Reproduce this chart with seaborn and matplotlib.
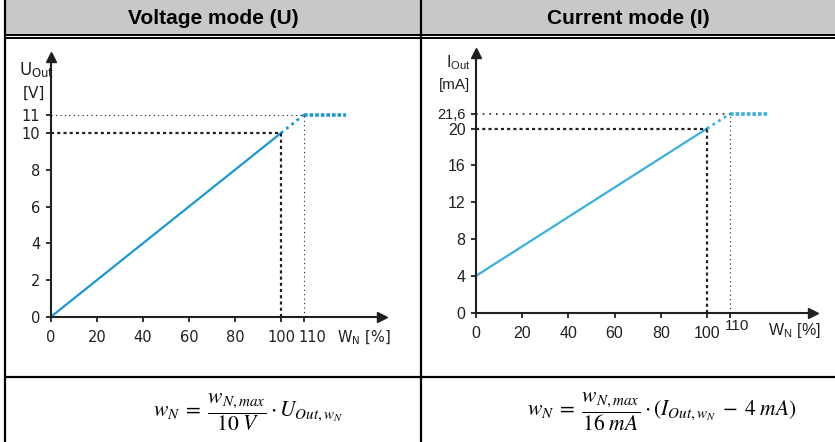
import matplotlib.pyplot as plt
import pandas as pd
import seaborn as sns

sns.set_theme(style="white")
plt.rcParams["font.family"] = ["DejaVu Sans"]
plt.rcParams["mathtext.fontset"] = "stix"

W, H = 835, 442

# voltage mode (U)
wn_u = [0, 100, 110, 128]
u_out = [0, 10, 11, 11]
u_ticks = [0, 2, 4, 6, 8, 10, 11]
u_ticklabels = ["0", "2", "4", "6", "8", "10", "11"]

# current mode (I)
wn_i = [0, 100, 110, 127]
i_out = [4, 20, 21.6, 21.6]
i_ticks = [0, 4, 8, 12, 16, 20, 21.6]
i_ticklabels = ["0", "4", "8", "12", "16", "20", "21,6"]

wn_ticks = [0, 20, 40, 60, 80, 100, 110]
wn_ticklabels = ["0", "20", "40", "60", "80", "100", "110"]

headers = ["Voltage mode (U)", "Current mode (I)"]
formulas = [
    r"$w_N\;=\;\dfrac{w_{N,max}}{10\;V}\cdot U_{Out,w_N}$",
    r"$w_N\;=\;\dfrac{w_{N,max}}{16\;mA}\cdot (I_{Out,w_N}\;-\;4\;mA)$",
]

INK = "#231f20"


def px_rect(left, right, top, bottom):
    return [left / W, 1 - bottom / H, (right - left) / W, (bottom - top) / H]


def draw_panel(ax, x, y, color, xmax, ymax, thin_h, family, fsize):
    ax.set_facecolor("none")
    df = pd.DataFrame({"wn": x, "out": y})
    sns.lineplot(data=df.iloc[0:2], x="wn", y="out", color=color, lw=1.6, ax=ax)
    sns.lineplot(data=df.iloc[1:3], x="wn", y="out", color=color, lw=2.0,
                 linestyle=(0, (1, 1.4)), ax=ax)
    sns.lineplot(data=df.iloc[2:4], x="wn", y="out", color=color, lw=2.6,
                 linestyle=(0, (1, 0.55)), solid_capstyle="butt",
                 dash_capstyle="butt", ax=ax)
    # guide lines to nominal and saturation points
    ax.hlines(y[1], 0, x[1], color=INK, lw=1.6, linestyles=[(0, (1.4, 1.4))])
    ax.vlines(x[1], 0, y[1], color=INK, lw=1.6, linestyles=[(0, (1.4, 1.4))])
    ax.hlines(y[2], 0, x[2], color=INK, lw=thin_h, linestyles=[(0, (1, 3))])
    ax.vlines(x[2], 0, y[2], color=INK, lw=0.8, linestyles=[(0, (1, 3))])

    ax.set_xlim(0, xmax)
    ax.set_ylim(0, ymax)
    for s in ["top", "right"]:
        ax.spines[s].set_visible(False)
    for s in ["left", "bottom"]:
        ax.spines[s].set_color(INK)
        ax.spines[s].set_linewidth(1.5)
    ax.plot(1, 0, ">", color=INK, ms=7, transform=ax.get_yaxis_transform(), clip_on=False)
    ax.plot(0, 1, "^", color=INK, ms=7, transform=ax.get_xaxis_transform(), clip_on=False)
    ax.tick_params(direction="out", length=3.5, width=1.3, color=INK,
                   labelcolor=INK, labelsize=fsize, left=True, bottom=True)
    ax.tick_params(axis="x", pad=6)
    ax.tick_params(axis="y", pad=4)
    for lab in ax.get_xticklabels() + ax.get_yticklabels():
        lab.set_family(family)
    ax.set_xlabel("")
    ax.set_ylabel("")


fig = plt.figure(figsize=(W / 100, H / 100), dpi=100)

# table frame
ov = fig.add_axes([0, 0, 1, 1])
ov.set_xlim(0, W)
ov.set_ylim(H, 0)
ov.axis("off")
ov.fill_between([5, W], 0, 34, color="#c8c8c8", lw=0)
ov.plot([5, W], [34.5, 34.5], color="black", lw=1.4)
ov.plot([5, W], [37.8, 37.8], color="black", lw=1.4)
ov.plot([5, W], [377, 377], color="black", lw=1.6)
ov.plot([5, 5], [0, H], color="black", lw=1.6)
ov.plot([420.5, 420.5], [0, H], color="black", lw=1.6)
for xc, txt in zip([213, 628], headers):
    ov.text(xc, 18, txt, ha="center", va="center", fontsize=15,
            fontweight="bold", family="Liberation Sans", color="black")
for xc, txt in zip([248, 662], formulas):
    ov.text(xc, 412, txt, ha="center", va="center", fontsize=15.5, color="black")

# voltage panel
ax1 = fig.add_axes(px_rect(50.7, 381.7, 57, 317))
ax1.set_xticks(wn_ticks, wn_ticklabels[:-1] + [""])
ax1.set_yticks(u_ticks, u_ticklabels)
draw_panel(ax1, wn_u, u_out, "#1b97d3", 143.7, 14.13, 0.8, "DejaVu Sans", 10.5)
ax1.get_xticklabels()[-2].set_x(98.5)
ov.text(312, 337, wn_ticklabels[-1], ha="center", va="center", fontsize=10.5,
        color=INK)
ov.text(19, 70, r"U$_{\mathregular{Out}}$", ha="left", va="center",
        fontsize=12, color=INK)
ov.text(34, 93, "[V]", ha="center", va="center", fontsize=11, color=INK)
ov.text(337, 337, r"W$_{\mathregular{N}}$ [%]", ha="left", va="center",
        fontsize=10.5, color=INK)

# current panel
ax2 = fig.add_axes(px_rect(476, 813, 53, 312.7))
ax2.set_xticks(wn_ticks, wn_ticklabels[:-1] + [""])
ax2.set_yticks(i_ticks, i_ticklabels)
draw_panel(ax2, wn_i, i_out, "#3aafe0", 145.9, 28.2, 1.2, "Liberation Sans", 11.5)
ax2.get_yticklabels()[-1].set_fontsize(10.5)
ov.text(737, 326, wn_ticklabels[-1], ha="center", va="center", fontsize=11,
        family="Liberation Sans", color=INK)
ov.text(446, 63, r"I$_{\mathregular{Out}}$", ha="left", va="center",
        fontsize=11.5, family="Liberation Sans", color=INK)
ov.text(455, 85, "[mA]", ha="center", va="center", fontsize=11,
        family="Liberation Sans", color=INK)
ov.text(768, 330, r"W$_{\mathregular{N}}$ [%]", ha="left", va="center",
        fontsize=11.5, family="Liberation Sans", color=INK)

fig.savefig("out.png", dpi=100)
